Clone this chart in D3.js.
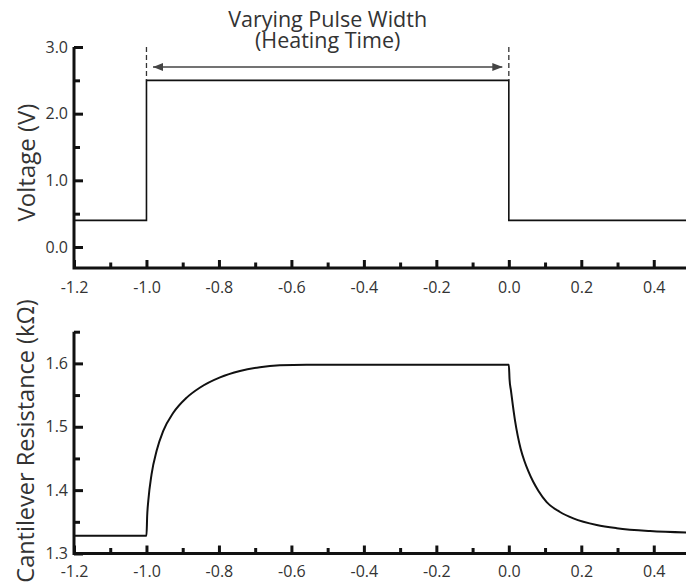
<!DOCTYPE html>
<html>
<head>
<meta charset="utf-8">
<script src="https://cdn.jsdelivr.net/npm/d3@7"></script>
<style>
  html, body { margin: 0; padding: 0; background: #fff; }
  svg { display: block; }
  text { font-family: "Open Sans", "Noto Sans", sans-serif; fill: #333; }
</style>
</head>
<body>
<script>
// Time axis (shared by both panels)
const timeMajorTicks = [-1.2, -1.0, -0.8, -0.6, -0.4, -0.2, 0.0, 0.2, 0.4];
const timeMinorTicks = [-1.1, -0.9, -0.7, -0.5, -0.3, -0.1, 0.1, 0.3];

// Voltage pulse (step after each time)
const pulseTime = [-1.2, -1.0, 0.0, 0.5];
const pulseVoltage = [0.4, 2.5, 0.4, 0.4];
const pulseStart = -1.0;
const pulseEnd = 0.0;
const voltageMajorTicks = [0, 1, 2, 3];
const voltageMinorTicks = [0.5, 1.5, 2.5];

// Cantilever resistance response
const resTime = [-1.2, -1.0, -0.998, -0.995, -0.986, -0.972, -0.954, -0.926, -0.889, -0.852,
  -0.797, -0.742, -0.687, -0.632, -0.558, -0.3, 0.0, 0.002, 0.0059, 0.0115, 0.0170, 0.0245,
  0.0328, 0.0430, 0.0538, 0.0670, 0.0814, 0.1045, 0.1412, 0.1780, 0.2425, 0.2977, 0.3897, 0.5];
const resValue = [1.328, 1.328, 1.360, 1.383, 1.425, 1.462, 1.493, 1.522, 1.546, 1.562,
  1.578, 1.588, 1.594, 1.597, 1.598, 1.598, 1.598, 1.575, 1.557, 1.532, 1.510, 1.486,
  1.465, 1.446, 1.430, 1.4135, 1.399, 1.381, 1.3655, 1.3555, 1.345, 1.340, 1.3355, 1.333];
const resMajorTicks = [1.3, 1.4, 1.5, 1.6];
const resMinorTicks = [1.35, 1.45, 1.55, 1.65];

const W = 686, H = 584;
const svg = d3.select("body").append("svg").attr("width", W).attr("height", H);

const x = d3.scaleLinear().domain([-1.2, 0.5]).range([74, 690]);
const yV = d3.scaleLinear().domain([-0.315, 3.0]).range([268, 47]);
const yR = d3.scaleLinear().domain([1.3, 1.65]).range([553.5, 331.7]);

// plain hyphen for negative numbers
const fmt1 = d => d.toFixed(1);

function styleAxis(g, tickW) {
  g.select(".domain").remove();
  g.selectAll(".tick line").attr("stroke", "#111").attr("stroke-width", tickW);
  g.selectAll("text").style("font-size", "16px").attr("fill", "#333");
}

function drawPanel(y, majorY, minorY, baseY, labelY) {
  // bottom (time) axis, ticks pointing up into the plot
  const gxMaj = svg.append("g").attr("transform", `translate(0,${baseY})`)
    .call(d3.axisBottom(x).tickValues(timeMajorTicks).tickFormat(fmt1).tickSize(-8).tickSizeOuter(0));
  styleAxis(gxMaj, 3);
  gxMaj.selectAll("text").attr("dy", null).attr("y", labelY);
  const gxMin = svg.append("g").attr("transform", `translate(0,${baseY})`)
    .call(d3.axisBottom(x).tickValues(timeMinorTicks).tickFormat("").tickSize(-5.5).tickSizeOuter(0));
  styleAxis(gxMin, 3);

  // left axis, ticks pointing right into the plot
  const gyMaj = svg.append("g").attr("transform", `translate(${x(-1.2)},0)`)
    .call(d3.axisLeft(y).tickValues(majorY).tickFormat(fmt1).tickSize(-9).tickPadding(6).tickSizeOuter(0));
  styleAxis(gyMaj, 3);
  const gyMin = svg.append("g").attr("transform", `translate(${x(-1.2)},0)`)
    .call(d3.axisLeft(y).tickValues(minorY).tickFormat("").tickSize(-6).tickSizeOuter(0));
  styleAxis(gyMin, 3);

  // axis lines
  const [y0, y1] = y.range();
  svg.append("path")
    .attr("d", `M${x(-1.2)},${y1}V${y0}H${W + 4}`)
    .attr("fill", "none").attr("stroke", "#111").attr("stroke-width", 3)
    .attr("stroke-linejoin", "miter");
}

drawPanel(yV, voltageMajorTicks, voltageMinorTicks, 268, 25);
drawPanel(yR, resMajorTicks, resMinorTicks, 553.5, 23.2);

// voltage pulse trace
const pulseData = pulseTime.map((t, i) => ({ t, v: pulseVoltage[i] }));
svg.append("path")
  .datum(pulseData)
  .attr("d", d3.line().x(d => x(d.t)).y(d => yV(d.v)).curve(d3.curveStepAfter))
  .attr("fill", "none").attr("stroke", "#111").attr("stroke-width", 1.6);

// resistance trace
const resData = resTime.map((t, i) => ({ t, r: resValue[i] }));
svg.append("path")
  .datum(resData)
  .attr("d", d3.line().x(d => x(d.t)).y(d => yR(d.r)).curve(d3.curveMonotoneX))
  .attr("fill", "none").attr("stroke", "#111").attr("stroke-width", 2);

// pulse-width annotation: dashed guides and double arrow
[pulseStart, pulseEnd].forEach(t => {
  svg.append("line")
    .attr("x1", x(t)).attr("x2", x(t))
    .attr("y1", yV(3.0)).attr("y2", yV(2.5))
    .attr("stroke", "#333").attr("stroke-width", 1.3)
    .attr("stroke-dasharray", "5,3");
});

svg.append("defs").append("marker")
  .attr("id", "head").attr("viewBox", "0 0 10 8")
  .attr("refX", 10).attr("refY", 4)
  .attr("markerUnits", "userSpaceOnUse")
  .attr("markerWidth", 10).attr("markerHeight", 8)
  .attr("orient", "auto-start-reverse")
  .append("path").attr("d", "M0,0L10,4L0,8Z").attr("fill", "#444");

svg.append("line")
  .attr("x1", x(pulseStart) + 6.5).attr("x2", x(pulseEnd) - 6.5)
  .attr("y1", yV(2.7)).attr("y2", yV(2.7))
  .attr("stroke", "#444").attr("stroke-width", 1.5)
  .attr("marker-start", "url(#head)").attr("marker-end", "url(#head)");

// two-line heading over the pulse
const midX = x((pulseStart + pulseEnd) / 2);
const heading = svg.append("text").attr("text-anchor", "middle").style("font-size", "21.5px");
heading.append("tspan").attr("x", midX).attr("y", 26.7).text("Varying Pulse Width");
heading.append("tspan").attr("x", midX).attr("y", 48.3).text("(Heating Time)");

// axis titles
svg.append("text")
  .attr("transform", `translate(35,${(yV(3.0) + yV(-0.315)) / 2 + 5}) rotate(-90)`)
  .attr("text-anchor", "middle").style("font-size", "24px").text("Voltage (V)");
svg.append("text")
  .attr("transform", `translate(34,441) rotate(-90)`)
  .attr("text-anchor", "middle").style("font-size", "23.5px").text("Cantilever Resistance (kΩ)");
</script>
</body>
</html>
